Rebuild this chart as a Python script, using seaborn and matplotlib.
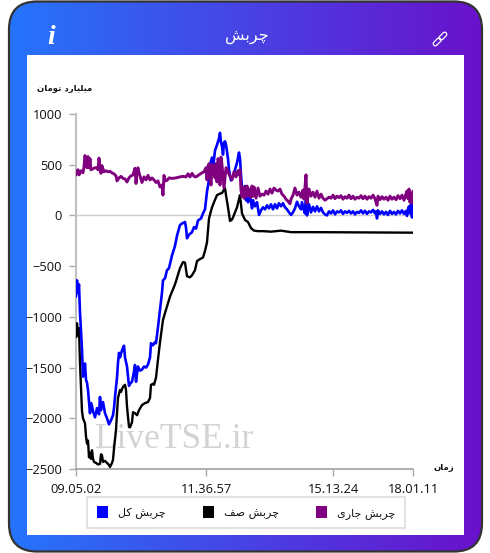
import numpy as np
import pandas as pd
import matplotlib
matplotlib.use("Agg")
import matplotlib.pyplot as plt
from matplotlib.colors import LinearSegmentedColormap
from matplotlib.patches import FancyBboxPatch, Rectangle, Patch
from matplotlib.transforms import Affine2D
import seaborn as sns

TITLE = "چربش"
Y_LABEL = "میلیارد تومان"
X_LABEL = "زمان"
WATERMARK = "LiveTSE.ir"
NAME_TOTAL = "چربش کل"
NAME_QUEUE = "چربش صف"
NAME_CURRENT = "چربش جاری"

x_tick_samples = [0, 130, 257, 337]
x_tick_labels = ["09.05.02", "11.36.57", "15.13.24", "18.01.11"]
y_ticks = [1000, 500, 0, -500, -1000, -1500, -2000, -2500]

# (sample number, value in billion toman)
queue_readings = [
 (0,-1200),(1,-1063),(2,-1190),(3,-1110),(4,-1460),(6,-1930),(7,-2000),(9,-2050),(10,-2180),(11,-2250),
 (12,-2220),(13,-2385),(14,-2340),(15,-2400),(16,-2315),(17,-2400),(18,-2430),(20,-2440),(22,-2455),(24,-2450),
 (25,-2355),(26,-2365),(27,-2430),(29,-2420),(31,-2440),(33,-2460),(34,-2480),(36,-2440),(37,-2410),(38,-2300),
 (40,-2115),(41,-1950),(42,-1800),(44,-1720),(45,-1740),(47,-1690),(49,-1670),(50,-1720),(51,-1885),(53,-2085),
 (54,-2090),(56,-2040),(57,-1940),(59,-1950),(61,-1970),(63,-1920),(66,-1870),(69,-1850),(72,-1840),(74,-1800),
 (75,-1670),(77,-1660),(78,-1670),(80,-1600),(82,-1420),(84,-1250),(87,-1030),(90,-930),(94,-800),(99,-680),
 (104,-520),(107,-460),(109,-465),(111,-600),(114,-610),(116,-590),(119,-540),(121,-450),(124,-430),(127,-415),
 (129,-350),(131,-265),(133,-30),(136,80),(138,130),(141,200),(144,215),(146,220),(149,270),(150,200),
 (152,80),(154,-55),(156,-40),(157,-20),(159,30),(161,80),(163,160),(164,200),(166,20),(169,-45),
 (172,-65),(175,-125),(178,-150),(182,-155),(187,-155),(195,-160),(205,-150),(215,-165),(240,-165),(337,-170),
]

total_readings = [
 (0,-800),(1,-640),(2,-760),(3,-680),(4,-960),(6,-1325),(7,-1590),(8,-1500),(9,-1460),(10,-1620),
 (11,-1650),(12,-1720),(13,-1840),(14,-1950),(15,-1850),(16,-1880),(17,-1930),(19,-1990),(21,-1900),(23,-1960),
 (24,-1790),(25,-1920),(26,-1880),(27,-1840),(29,-1950),(31,-2000),(33,-2060),(35,-2020),(37,-1970),(38,-1900),
 (39,-1790),(41,-1600),(42,-1450),(43,-1355),(44,-1400),(46,-1330),(48,-1285),(49,-1400),(51,-1490),(53,-1680),
 (54,-1660),(56,-1640),(58,-1540),(59,-1475),(60,-1640),(61,-1560),(62,-1490),(64,-1530),(66,-1520),(68,-1490),
 (70,-1500),(72,-1470),(74,-1400),(75,-1260),(77,-1280),(79,-1250),(80,-1260),(82,-1100),(84,-930),(86,-760),
 (87,-640),(89,-620),(91,-540),(93,-520),(96,-395),(99,-300),(101,-200),(104,-95),(106,-80),(109,-65),
 (110,-120),(111,-225),(113,-190),(116,-165),(118,-115),(120,-130),(122,-50),(125,-30),(127,20),(129,60),
 (131,235),(133,350),(134,500),(136,570),(137,460),(139,640),(141,695),(143,760),(144,815),(145,720),
 (146,680),(147,600),(148,720),(149,730),(150,700),(152,560),(153,450),(155,345),(157,380),(159,450),
 (161,520),(163,620),(164,560),(165,400),(166,270),(168,200),(169,290),(170,150),(171,250),(172,130),
 (174,200),(176,70),(177,150),(179,90),(181,130),(183,5),(185,50),(187,80),(189,60),(191,100),
 (193,70),(195,110),(197,60),(199,110),(201,70),(203,120),(205,90),(207,120),(209,80),(211,60),
 (213,30),(215,5),(217,30),(219,70),(221,135),(223,90),(225,60),(226,130),(228,50),(229,20),
 (230,220),(231,0),(233,110),(235,30),(237,85),(239,40),(241,90),(243,40),(245,75),(247,30),
 (249,10),(251,0),(253,40),(255,20),(257,50),(259,10),(261,40),(263,30),(265,50),(267,15),
 (269,40),(271,25),(273,45),(275,20),(277,40),(279,10),(281,35),(283,25),(285,50),(287,20),
 (289,45),(291,15),(293,40),(295,30),(297,55),(299,20),(300,40),(301,-30),(302,50),(304,15),
 (306,40),(308,10),(310,35),(312,5),(314,45),(316,15),(318,35),(320,10),(322,45),(324,20),
 (326,50),(328,15),(330,45),(331,-5),(332,60),(333,90),(334,20),(335,110),(336,-20),(337,100),
]

current_readings = [
 (0,400),(1,440),(2,450),(3,400),(5,440),(7,420),(8,480),(9,590),(10,520),(11,470),
 (12,580),(13,470),(14,560),(15,450),(17,460),(19,470),(21,470),(22,450),(23,565),(24,480),
 (25,415),(26,490),(28,430),(30,440),(32,430),(34,435),(36,420),(38,410),(40,390),(41,340),
 (43,370),(45,385),(47,365),(49,360),(51,330),(53,370),(55,390),(57,400),(59,465),(60,315),
 (61,430),(62,470),(63,420),(65,355),(66,325),(68,380),(70,350),(72,395),(74,350),(76,370),
 (78,350),(80,325),(82,340),(84,280),(86,300),(87,200),(88,395),(89,340),(91,345),(93,370),
 (96,365),(100,370),(104,380),(107,385),(110,380),(112,410),(114,380),(116,415),(118,385),(120,380),
 (123,400),(126,420),(128,430),(130,470),(131,350),(132,480),(133,510),(134,400),(135,300),(136,500),
 (138,470),(139,370),(140,510),(141,330),(142,560),(143,510),(144,300),(145,575),(146,500),(147,390),
 (148,270),(150,470),(151,460),(152,430),(154,385),(156,350),(158,430),(160,380),(162,440),(163,400),
 (164,450),(165,250),(166,190),(167,280),(168,170),(169,280),(170,190),(171,290),(172,190),(173,260),
 (175,180),(176,290),(177,190),(178,280),(180,170),(182,270),(184,190),(186,210),(188,200),(190,240),
 (192,210),(194,260),(196,220),(198,270),(200,250),(202,240),(204,260),(206,210),(208,190),(210,160),
 (212,140),(214,115),(215,160),(217,200),(219,270),(221,200),(223,230),(225,180),(227,250),(228,160),
 (230,400),(231,120),(233,260),(235,190),(237,230),(239,180),(241,240),(243,170),(245,210),(247,170),
 (249,150),(251,165),(253,180),(255,170),(257,200),(259,165),(261,190),(263,175),(265,195),(267,160),
 (269,185),(271,170),(273,200),(275,165),(277,190),(279,160),(281,180),(283,170),(285,195),(287,165),
 (289,190),(291,160),(293,185),(295,170),(297,200),(299,165),(301,100),(302,190),(304,155),(306,185),
 (308,160),(310,180),(312,150),(314,190),(316,160),(318,180),(320,155),(322,195),(324,165),(326,200),
 (328,150),(330,215),(331,240),(332,165),(333,260),(334,130),(335,220),(336,120),(337,240),
]

BLACK = "#000000"
BLUE = "#0000ff"
PURPLE = "#800080"

FORMS = {
 "ا": (0xFE8D,0xFE8E,None,None), "د": (0xFEA9,0xFEAA,None,None), "ر": (0xFEAD,0xFEAE,None,None),
 "ز": (0xFEAF,0xFEB0,None,None), "و": (0xFEED,0xFEEE,None,None),
 "ب": (0xFE8F,0xFE90,0xFE91,0xFE92), "ت": (0xFE95,0xFE96,0xFE97,0xFE98),
 "ج": (0xFE9D,0xFE9E,0xFE9F,0xFEA0), "چ": (0xFB7A,0xFB7B,0xFB7C,0xFB7D),
 "ش": (0xFEB5,0xFEB6,0xFEB7,0xFEB8), "ص": (0xFEB9,0xFEBA,0xFEBB,0xFEBC),
 "ف": (0xFED1,0xFED2,0xFED3,0xFED4), "ک": (0xFB8E,0xFB8F,0xFB90,0xFB91),
 "ل": (0xFEDD,0xFEDE,0xFEDF,0xFEE0), "م": (0xFEE1,0xFEE2,0xFEE3,0xFEE4),
 "ن": (0xFEE5,0xFEE6,0xFEE7,0xFEE8), "ی": (0xFBFC,0xFBFD,0xFBFE,0xFBFF),
}

def shape(text):
    out = []
    for i, ch in enumerate(text):
        if ch not in FORMS:
            out.append(ch)
            continue
        prev = text[i-1] if i else " "
        nxt = text[i+1] if i + 1 < len(text) else " "
        joins_prev = prev in FORMS and FORMS[prev][2] is not None
        joins_next = nxt in FORMS and FORMS[ch][2] is not None
        idx = 3 if joins_prev and joins_next else 1 if joins_prev else 2 if joins_next else 0
        out.append(chr(FORMS[ch][idx]))
    return "".join(reversed(out))

sns.set_theme(style="white")
plt.rcParams["font.family"] = ["DejaVu Sans"]

W, H = 490, 553
fig = plt.figure(figsize=(W/100, H/100), dpi=100, facecolor="white")

bg = fig.add_axes([0, 0, 1, 1], zorder=0)
cmap = LinearSegmentedColormap.from_list("card", ["#2575fc", "#6a11cb"])
im = bg.imshow(np.linspace(0, 1, 256)[None, :], cmap=cmap, aspect="auto", extent=(9, 482, 552, 1))
card = FancyBboxPatch((9, 1.5), 473, 550, boxstyle="round,pad=0,rounding_size=28",
                      fc="none", ec="#333333", lw=1.6, zorder=3)
bg.add_patch(card)
im.set_clip_path(card)
bg.add_patch(Rectangle((27, 55), 436.5, 480, fc="white", ec="none", zorder=2))
bg.set_xlim(0, W)
bg.set_ylim(H, 0)
bg.axis("off")

bg.text(247, 36, shape(TITLE), color="white", fontsize=11.5, ha="center", va="center", zorder=4)
bg.text(51, 37.5, "i", color="white", fontsize=20, family="Liberation Serif", style="italic",
        weight="bold", ha="center", va="center", zorder=4)
for dx, dy in [(-2.9, 2.9), (2.9, -2.9)]:
    tr = Affine2D().rotate_deg_around(440 + dx, 39 + dy, -45) + bg.transData
    bg.add_patch(FancyBboxPatch((440 + dx - 4.6, 39 + dy - 2.1), 9.2, 4.2,
                                boxstyle="round,pad=0,rounding_size=2.1",
                                fc="none", ec="white", lw=0.9, transform=tr, zorder=4))
bg.text(37, 88.5, shape(Y_LABEL), color="#111111", fontsize=6.1, weight="bold", ha="left", va="center", zorder=4)
bg.text(443.5, 467.5, shape(X_LABEL), color="#111111", fontsize=6.1, weight="bold", ha="center", va="center", zorder=4)

ax = fig.add_axes([76/W, 1 - 469/H, 337/W, 355/H], zorder=1)
ax.patch.set_alpha(0)
ax.axhline(0, color="#cccccc", lw=1, zorder=0.5)
ax.text(0.055, 0.084, WATERMARK, transform=ax.transAxes, family="Liberation Serif",
        fontsize=25.5, color="#d3d3d3", ha="left", va="center", zorder=0.6)

for readings, c, lw in [(queue_readings, BLACK, 1.7), (total_readings, BLUE, 1.9), (current_readings, PURPLE, 2.1)]:
    df = pd.DataFrame(readings, columns=["sample", "value"])
    sns.lineplot(data=df, x="sample", y="value", color=c, linewidth=lw, estimator=None,
                 sort=False, ax=ax, legend=False, solid_joinstyle="round", zorder=3)

ax.set_xlim(0, 337)
ax.set_ylim(-2500, 1000)
ax.set_xlabel("")
ax.set_ylabel("")
ax.set_yticks(y_ticks)
ax.set_yticklabels([f"\u2212{abs(t)}" if t < 0 else str(t) for t in y_ticks])
ax.set_xticks(x_tick_samples)
ax.set_xticklabels(x_tick_labels)
ax.tick_params(axis="both", length=5, width=1, color="#aaaaaa", labelcolor="#111111",
               labelsize=9.3, bottom=True, left=True)
for lab in ax.get_xticklabels() + ax.get_yticklabels():
    lab.set_family("Open Sans")
ax.tick_params(axis="x", pad=5)
ax.tick_params(axis="y", pad=5)
for name in ("top", "right"):
    ax.spines[name].set_visible(False)
ax.spines["left"].set_color("#c0c0c0")
ax.spines["left"].set_linewidth(1.5)
ax.spines["bottom"].set_color("#999999")
ax.spines["bottom"].set_linewidth(1.1)

handles = [Patch(fc=BLUE, ec="none"), Patch(fc=BLACK, ec="none"), Patch(fc=PURPLE, ec="none")]
labels = [shape(NAME_TOTAL), shape(NAME_QUEUE), shape(NAME_CURRENT)]
leg = fig.legend(handles, labels, ncols=3, loc="center", bbox_to_anchor=(246/W, 1 - 512.5/H),
                 frameon=True, fancybox=False, edgecolor="#dddddd", framealpha=1,
                 fontsize=8, handlelength=1.0, handleheight=1.25, handletextpad=0.9,
                 columnspacing=3.35, borderpad=0.85, labelcolor="#111111")
leg.set_zorder(5)
leg.get_frame().set_linewidth(1.2)

fig.savefig("out.png", dpi=100)
